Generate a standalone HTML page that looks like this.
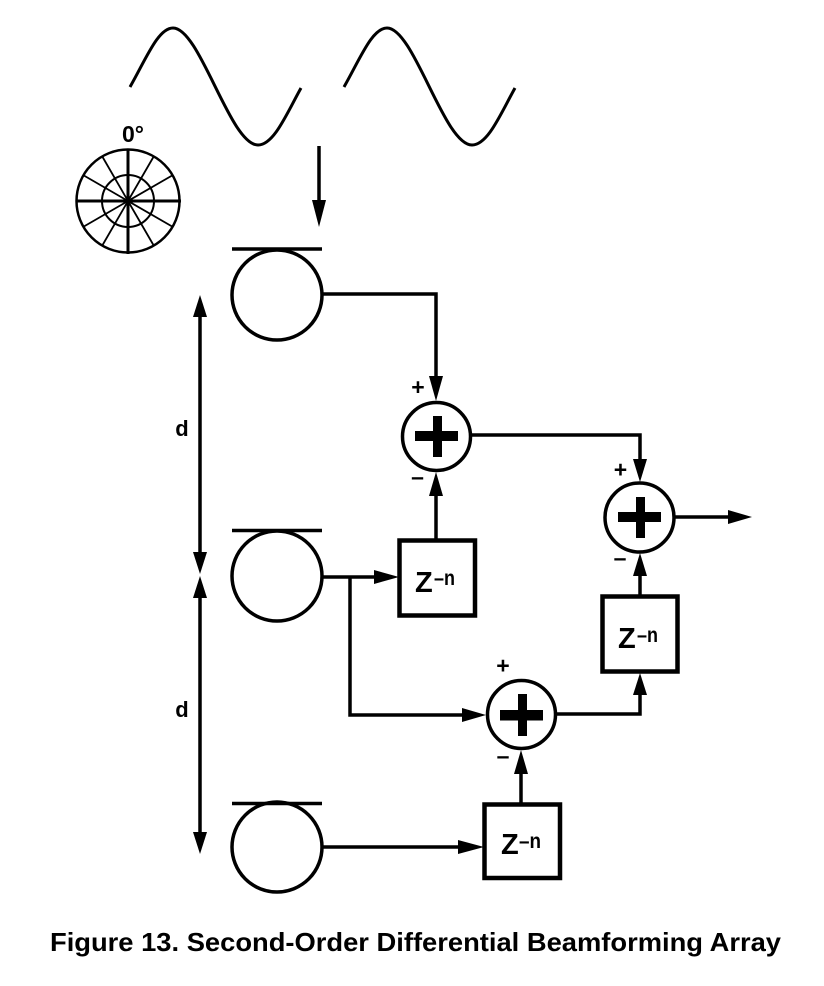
<!DOCTYPE html>
<html>
<head>
<meta charset="utf-8">
<style>
html,body{margin:0;padding:0;background:#fff;width:824px;height:986px;overflow:hidden}
svg{display:block}
text{font-family:"Liberation Sans",sans-serif;font-weight:bold;fill:#000}
</style>
</head>
<body>
<svg width="824" height="986" viewBox="0 0 824 986" xmlns="http://www.w3.org/2000/svg">
<rect width="824" height="986" fill="#fff"/>
<g fill="none" stroke="#000" stroke-width="3">
<path d="M130,87 C146,59 158,28 173,28 C200,28 230,145 258,145 C274,145 287,113 301,88"/>
<path d="M344,87 C360,59 372,28 387,28 C414,28 444,145 472,145 C488,145 501,113 515,88"/>
<circle cx="128" cy="201" r="51.5" stroke-width="2.5"/>
<circle cx="128" cy="201" r="26" stroke-width="2"/>
</g>
<g stroke="#000" stroke-width="1.8">
<line x1="102" y1="156" x2="154" y2="246"/>
<line x1="154" y1="156" x2="102" y2="246"/>
<line x1="83" y1="175" x2="173" y2="227"/>
<line x1="173" y1="175" x2="83" y2="227"/>
<line x1="128" y1="149" x2="128" y2="254" stroke-width="3"/>
<line x1="76" y1="201" x2="181" y2="201" stroke-width="3"/>
</g>
<text x="122" y="142" font-size="23" textLength="22" lengthAdjust="spacingAndGlyphs">0°</text>
<g fill="none" stroke="#000" stroke-width="3.5">
<circle cx="277" cy="295" r="45"/>
<circle cx="277" cy="576" r="45"/>
<circle cx="277" cy="847" r="45"/>
<line x1="232" y1="249" x2="322" y2="249"/>
<line x1="232" y1="530.5" x2="322" y2="530.5"/>
<line x1="232" y1="803.5" x2="322" y2="803.5"/>
<circle cx="436.5" cy="436.5" r="34"/>
<circle cx="639.5" cy="517.5" r="34.5"/>
<circle cx="521.5" cy="714.5" r="34"/>
<rect x="399.5" y="540.5" width="75.5" height="75" stroke-width="4.5"/>
<rect x="602.5" y="596.5" width="75" height="75" stroke-width="4.5"/>
<rect x="484.5" y="804.5" width="75.5" height="73.5" stroke-width="4.5"/>
<path d="M319,146 V202"/>
<path d="M200,315 V553"/>
<path d="M200,597 V835"/>
<path d="M322,294 H436 V376"/>
<path d="M470,435 H640 V462"/>
<path d="M436,540 V494"/>
<path d="M322,577 H376"/>
<path d="M350,577 V715 H464"/>
<path d="M555,714 H640 V692"/>
<path d="M640,596 V574"/>
<path d="M521,803 V772"/>
<path d="M322,847 H460"/>
<path d="M675,517 H730"/>
</g>
<g fill="#000">
<polygon points="319,227 312,200 326,200"/>
<polygon points="200,295 193,317 207,317"/>
<polygon points="200,574 193,552 207,552"/>
<polygon points="200,576 193,598 207,598"/>
<polygon points="200,854 193,832 207,832"/>
<polygon points="436,401 429,376 443,376"/>
<polygon points="436,472 429,496 443,496"/>
<polygon points="640,482 633,459 647,459"/>
<polygon points="640,553 633,576 647,576"/>
<polygon points="640,673 633,695 647,695"/>
<polygon points="521,750 514,774 528,774"/>
<polygon points="399,577 374,570 374,584"/>
<polygon points="486,715 462,708 462,722"/>
<polygon points="484,847 458,840 458,854"/>
<polygon points="752,517 728,510 728,524"/>
<rect x="415" y="431" width="43" height="10"/>
<rect x="433" y="416" width="9" height="41"/>
<rect x="618" y="512" width="43" height="10"/>
<rect x="636" y="497" width="9" height="41"/>
<rect x="500" y="710" width="43" height="10.5"/>
<rect x="518" y="694" width="9" height="42"/>
</g>
<g font-size="23" text-anchor="middle">
<text x="418" y="395">+</text>
<text x="620.5" y="477.5">+</text>
<text x="503" y="673.5">+</text>
<text x="417.5" y="484.5">–</text>
<text x="620" y="565.5">–</text>
<text x="503" y="763.5">–</text>
</g>
<text x="182" y="436" font-size="22" text-anchor="middle">d</text>
<text x="182" y="717" font-size="22" text-anchor="middle">d</text>
<g>
<text x="415" y="592" font-size="29">Z</text>
<text x="434" y="585" font-size="21" textLength="21" lengthAdjust="spacingAndGlyphs">–n</text>
<text x="618" y="648" font-size="29">Z</text>
<text x="637" y="642" font-size="21" textLength="21" lengthAdjust="spacingAndGlyphs">–n</text>
<text x="501" y="854" font-size="29">Z</text>
<text x="519" y="848" font-size="21" textLength="22" lengthAdjust="spacingAndGlyphs">–n</text>
</g>
<text x="50" y="951" font-size="26" textLength="731" lengthAdjust="spacingAndGlyphs">Figure 13. Second-Order Differential Beamforming Array</text>
</svg>
</body>
</html>
